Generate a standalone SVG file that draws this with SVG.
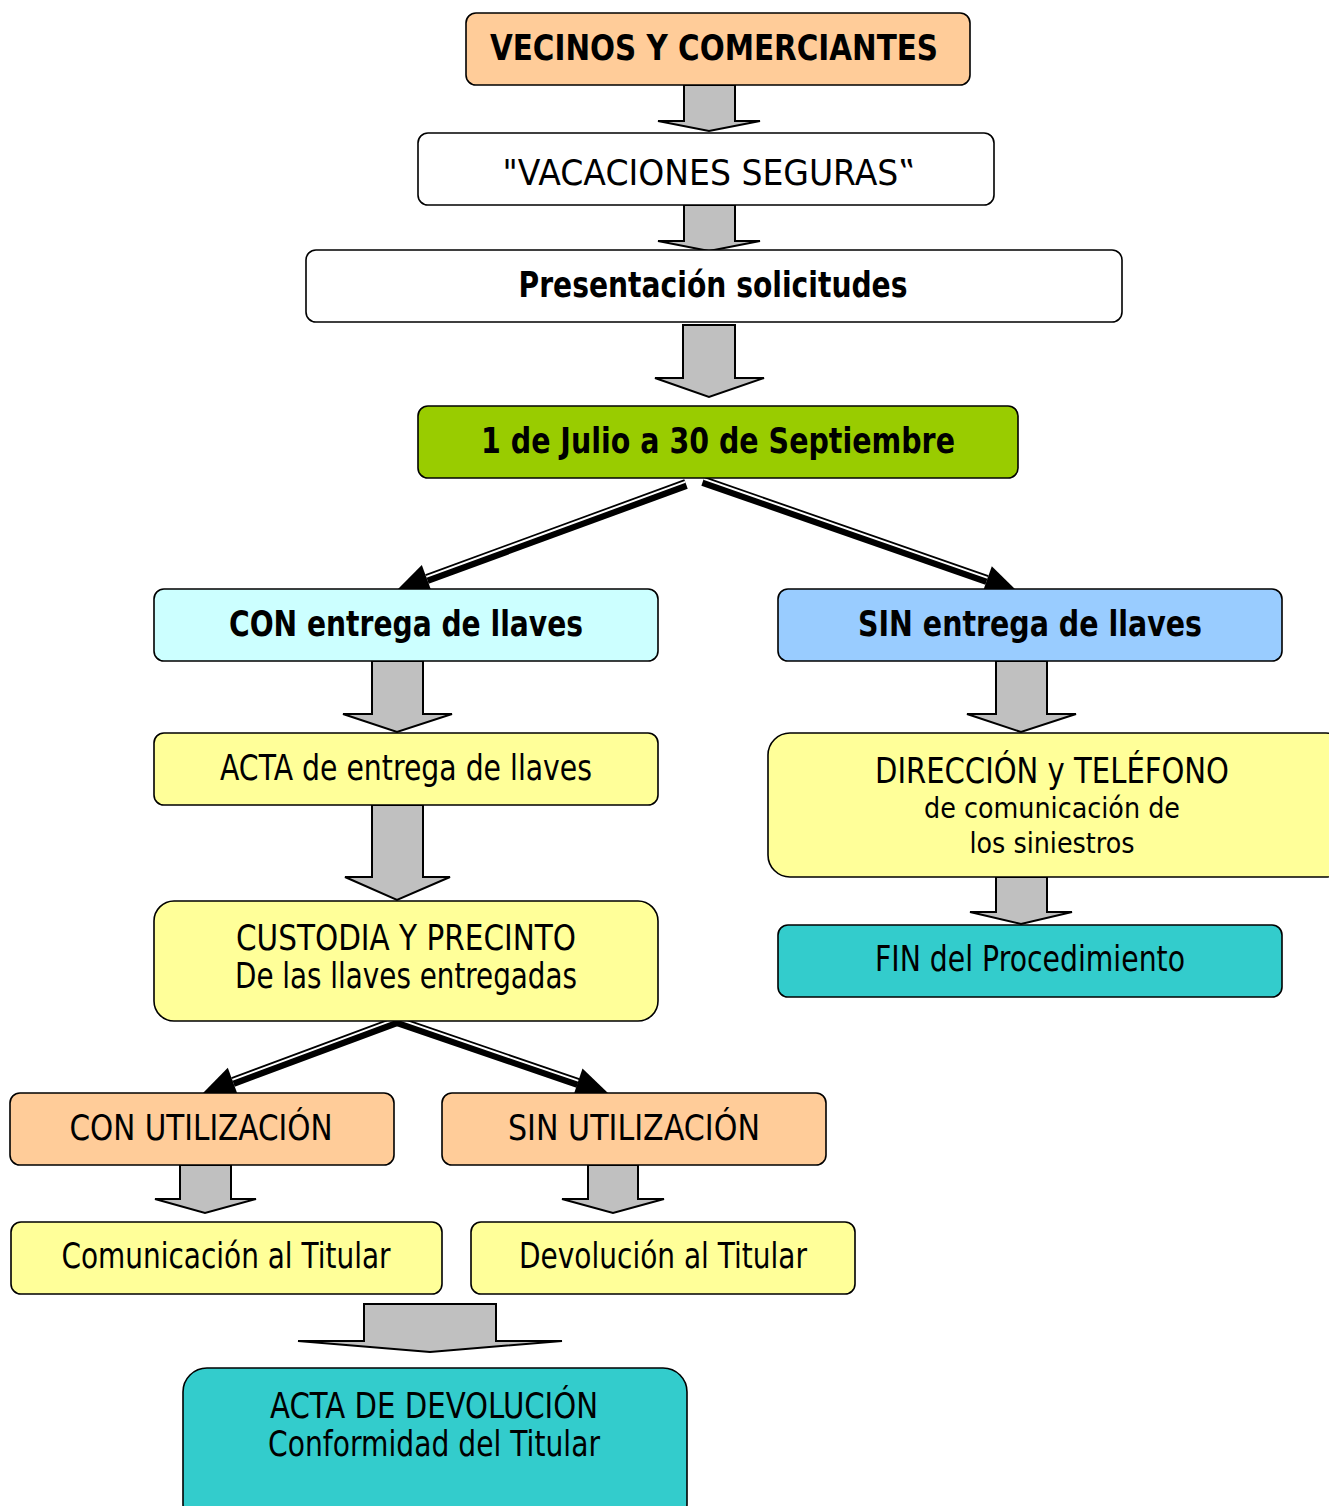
<svg xmlns="http://www.w3.org/2000/svg" width="1329" height="1506" viewBox="0 0 1329 1506">
<style>
.box{stroke:#000;stroke-width:1.6}
.t{font-family:"DejaVu Sans","Liberation Sans",sans-serif;fill:#000;text-anchor:middle}
.b{font-weight:bold;font-size:35px}
.r{font-size:35px}
.s{font-size:29px}
.blk{fill:#C0C0C0;stroke:#000;stroke-width:2;stroke-linejoin:miter}
.thick{stroke:#000;stroke-width:10;fill:none}
.gap{stroke:#fff;stroke-width:2;fill:none}
.head{fill:#000;stroke:none}
</style>
<rect width="1329" height="1506" fill="#fff"/>

<g id="connectors">
<path class="blk" d="M684,85 L735,85 L735,121 L760,121 L709,131 L658,121 L684,121 Z"/>
<path class="blk" d="M684,205 L735,205 L735,241 L760,241 L709,251 L658,241 L684,241 Z"/>
<path class="blk" d="M683,325 L735,325 L735,378 L764,378 L709,397 L655,378 L683,378 Z"/>
<path class="blk" d="M372,661 L423,661 L423,714 L452,714 L397,732 L343,714 L372,714 Z"/>
<path class="blk" d="M372,805 L423,805 L423,877 L450,877 L397,900 L345,877 L372,877 Z"/>
<path class="blk" d="M996,661 L1047,661 L1047,714 L1076,714 L1021,732 L967,714 L996,714 Z"/>
<path class="blk" d="M996,877 L1047,877 L1047,912 L1072,912 L1021,924 L970,912 L996,912 Z"/>
<path class="blk" d="M180,1165 L231,1165 L231,1199 L256,1199 L205,1213 L155,1199 L180,1199 Z"/>
<path class="blk" d="M588,1165 L638,1165 L638,1199 L664,1199 L613,1213 L562,1199 L588,1199 Z"/>
<path class="blk" d="M364,1304 L496,1304 L496,1341 L562,1341 L430,1352 L298,1341 L364,1341 Z"/>

<line class="thick" x1="686" y1="484" x2="427" y2="579"/>
<line class="gap" x1="685.2" y1="481.9" x2="426.2" y2="576.9"/>
<polygon class="head" points="397,590 421.8,564.9 432.2,593.1"/>

<line class="thick" x1="703" y1="481" x2="987" y2="580"/>
<line class="gap" x1="703.7" y1="478.9" x2="987.7" y2="577.9"/>
<polygon class="head" points="1017,591 991.8,566.2 981.8,594.6"/>

<line class="thick" x1="397" y1="1021" x2="233" y2="1082"/>
<line class="gap" x1="396.2" y1="1018.9" x2="232.2" y2="1079.9"/>
<polygon class="head" points="203,1093 227.8,1067.8 238.2,1096"/>

<line class="thick" x1="397" y1="1021" x2="578" y2="1083"/>
<line class="gap" x1="397.7" y1="1018.9" x2="578.7" y2="1080.9"/>
<polygon class="head" points="608,1093 582.5,1068.5 572.9,1096.9"/>
</g>

<g id="n1"><rect class="box" x="466" y="13" width="504" height="72" rx="10" fill="#FFCC99"/>
<text class="t b" x="714" y="60" textLength="448" lengthAdjust="spacingAndGlyphs">VECINOS Y COMERCIANTES</text></g>
<g id="n2"><rect class="box" x="418" y="133" width="576" height="72" rx="10" fill="#fff"/>
<text class="t r" x="709" y="185" textLength="413" lengthAdjust="spacingAndGlyphs">"VACACIONES SEGURAS‟</text></g>
<g id="n3"><rect class="box" x="306" y="250" width="816" height="72" rx="10" fill="#fff"/>
<text class="t b" x="713" y="297" textLength="389" lengthAdjust="spacingAndGlyphs">Presentación solicitudes</text></g>
<g id="n4"><rect class="box" x="418" y="406" width="600" height="72" rx="10" fill="#99CC00"/>
<text class="t b" x="718" y="453" textLength="474" lengthAdjust="spacingAndGlyphs">1 de Julio a 30 de Septiembre</text></g>
<g id="n5"><rect class="box" x="154" y="589" width="504" height="72" rx="10" fill="#CCFFFF"/>
<text class="t b" x="406" y="636" textLength="354" lengthAdjust="spacingAndGlyphs">CON entrega de llaves</text></g>
<g id="n6"><rect class="box" x="778" y="589" width="504" height="72" rx="10" fill="#99CCFF"/>
<text class="t b" x="1030" y="636" textLength="344" lengthAdjust="spacingAndGlyphs">SIN entrega de llaves</text></g>
<g id="n7"><rect class="box" x="154" y="733" width="504" height="72" rx="10" fill="#FFFF99"/>
<text class="t r" x="406" y="780" textLength="372" lengthAdjust="spacingAndGlyphs">ACTA de entrega de llaves</text></g>
<g id="n8"><rect class="box" x="768" y="733" width="580" height="144" rx="22" fill="#FFFF99"/>
<text class="t r" x="1052" y="783" textLength="354" lengthAdjust="spacingAndGlyphs">DIRECCIÓN y TELÉFONO</text>
<text class="t s" x="1052" y="818" textLength="256" lengthAdjust="spacingAndGlyphs">de comunicación de</text>
<text class="t s" x="1052" y="853" textLength="165" lengthAdjust="spacingAndGlyphs">los siniestros</text></g>
<g id="n9"><rect class="box" x="154" y="901" width="504" height="120" rx="20" fill="#FFFF99"/>
<text class="t r" x="406" y="950" textLength="340" lengthAdjust="spacingAndGlyphs">CUSTODIA Y PRECINTO</text>
<text class="t r" x="406" y="988" textLength="342" lengthAdjust="spacingAndGlyphs">De las llaves entregadas</text></g>
<g id="n10"><rect class="box" x="778" y="925" width="504" height="72" rx="10" fill="#33CCCC"/>
<text class="t r" x="1030" y="971" textLength="310" lengthAdjust="spacingAndGlyphs">FIN del Procedimiento</text></g>
<g id="n11"><rect class="box" x="10" y="1093" width="384" height="72" rx="10" fill="#FFCC99"/>
<text class="t r" x="201" y="1140" textLength="263" lengthAdjust="spacingAndGlyphs">CON UTILIZACIÓN</text></g>
<g id="n12"><rect class="box" x="442" y="1093" width="384" height="72" rx="10" fill="#FFCC99"/>
<text class="t r" x="634" y="1140" textLength="252" lengthAdjust="spacingAndGlyphs">SIN UTILIZACIÓN</text></g>
<g id="n13"><rect class="box" x="11" y="1222" width="431" height="72" rx="10" fill="#FFFF99"/>
<text class="t r" x="226" y="1268" textLength="329" lengthAdjust="spacingAndGlyphs">Comunicación al Titular</text></g>
<g id="n14"><rect class="box" x="471" y="1222" width="384" height="72" rx="10" fill="#FFFF99"/>
<text class="t r" x="663" y="1268" textLength="288" lengthAdjust="spacingAndGlyphs">Devolución al Titular</text></g>
<g id="n15"><rect class="box" x="183" y="1368" width="504" height="160" rx="24" fill="#33CCCC"/>
<text class="t r" x="434" y="1418" textLength="328" lengthAdjust="spacingAndGlyphs">ACTA DE DEVOLUCIÓN</text>
<text class="t r" x="434" y="1456" textLength="332" lengthAdjust="spacingAndGlyphs">Conformidad del Titular</text></g>
</svg>
